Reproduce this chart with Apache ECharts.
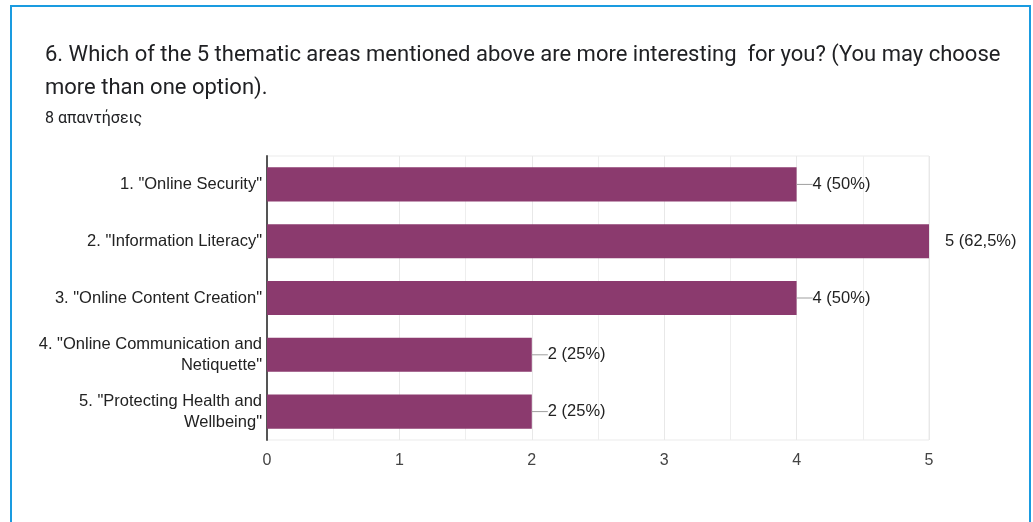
<!DOCTYPE html>
<html>
<head>
<meta charset="utf-8">
<script src="https://cdn.jsdelivr.net/npm/echarts@6/dist/echarts.min.js"></script>
<style>
html,body{margin:0;padding:0;background:#fff;}
#c{width:1033px;height:522px;}
</style>
</head>
<body>
<div id="c"></div>
<script>
const titleText = '6. Which of the 5 thematic areas mentioned above are more interesting  for you? (You may choose\nmore than one option).';
const subText = '8 απαντήσεις';
const categories = [
  '1. "Online Security"',
  '2. "Information Literacy"',
  '3. "Online Content Creation"',
  '4. "Online Communication and\nNetiquette"',
  '5. "Protecting Health and\nWellbeing"'
];
const values = [4, 5, 4, 2, 2];
const labels = ['4 (50%)', '5 (62,5%)', '4 (50%)', '2 (25%)', '2 (25%)'];
const xTicks = [0, 1, 2, 3, 4, 5];

const FONT = 'Arial, Liberation Sans, Helvetica, sans-serif';
const chart = echarts.init(document.getElementById('c'));
const maxIdx = values.indexOf(Math.max(...values));
chart.setOption({
  animation: false,
  title: {
    text: titleText,
    subtext: subText,
    left: 40,
    top: 34,
    itemGap: 6,
    textStyle: {fontFamily: 'Roboto', fontSize: 22, fontWeight: 'normal', color: '#202124', lineHeight: 33},
    subtextStyle: {fontFamily: 'Roboto', fontSize: 16, color: '#202124'}
  },
  graphic: [{
    type: 'rect', shape: {x: 11, y: 6, width: 1019, height: 600},
    style: {fill: 'none', stroke: '#1a9be0', lineWidth: 2}, silent: true
  }],
  grid: {left: 267, right: 104, top: 156, bottom: 82, show: true, borderColor: '#ebebeb', borderWidth: 1},
  xAxis: {
    type: 'value', min: xTicks[0], max: xTicks[xTicks.length - 1], interval: 1,
    axisLine: {show: false}, axisTick: {show: false},
    axisLabel: {fontFamily: FONT, fontSize: 16, color: '#444', margin: 13},
    splitLine: {show: true, lineStyle: {color: '#e8e8e8', width: 1}},
    minorTick: {show: false, splitNumber: 2},
    minorSplitLine: {show: true, lineStyle: {color: '#eeeeee', width: 1}}
  },
  yAxis: {
    type: 'category', inverse: true, data: categories,
    axisLine: {show: true, lineStyle: {color: '#555', width: 2}},
    axisTick: {show: false},
    axisLabel: {fontFamily: FONT, fontSize: 16.5, color: '#222', margin: 5, lineHeight: 21, align: 'right'}
  },
  series: [{
    type: 'bar', barWidth: '60%',
    data: values.map((v, i) => ({
      value: v,
      label: i === maxIdx ? {formatter: '{g|}{t|' + labels[i] + '}', rich: {g: {width: 16}, t: {fontFamily: FONT, fontSize: 16.5, color: '#222'}}} : {formatter: '{l|}{t|' + labels[i] + '}'}
    })),
    itemStyle: {color: '#8b3a6e'},
    label: {
      show: true, position: 'right', distance: 0,
      rich: {
        l: {width: 16, height: 1, backgroundColor: '#9e9e9e'},
        t: {fontFamily: FONT, fontSize: 16.5, color: '#222'}
      }
    }
  }]
});
</script>
</body>
</html>
